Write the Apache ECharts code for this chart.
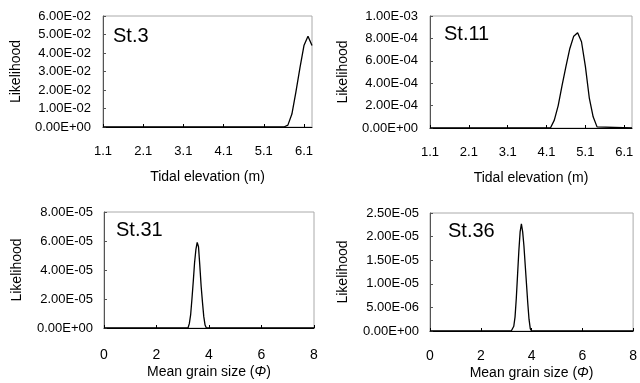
<!DOCTYPE html>
<html>
<head>
<meta charset="utf-8">
<script src="https://cdn.jsdelivr.net/npm/echarts@6/dist/echarts.min.js"></script>
<style>
html,body{margin:0;padding:0;background:#fff;}
#c{width:640px;height:383px;}
</style>
</head>
<body>
<div id="c"></div>
<script>
// Tidal elevation panels
const tidalTicks = [1.1, 2.1, 3.1, 4.1, 5.1, 6.1];
const st3X = [1.1, 5.6, 5.7, 5.8, 5.9, 6.0, 6.1, 6.2, 6.3];
const st3Y = [0, 0, 0.001, 0.007, 0.019, 0.032, 0.044, 0.049, 0.044];
const st11X = [1.1, 4.2, 4.3, 4.4, 4.5, 4.6, 4.7, 4.8, 4.9, 5.0, 5.1, 5.2, 5.3, 5.4, 6.3];
const st11Y = [0, 0, 0.00007, 0.0002, 0.00038, 0.00055, 0.00071, 0.00082, 0.00085, 0.00077, 0.00055, 0.00027, 0.0001, 0.00001, 0];
// Mean grain size panels
const grainTicks = [0, 2, 4, 6, 8];
const st31X = [0, 3.2, 3.25, 3.3, 3.35, 3.4, 3.45, 3.5, 3.55, 3.6, 3.65, 3.7, 3.75, 3.8, 3.85, 3.9, 8];
const st31Y = [0, 0, 0.3e-5, 0.9e-5, 2.0e-5, 3.2e-5, 4.5e-5, 5.4e-5, 5.9e-5, 5.6e-5, 4.3e-5, 2.9e-5, 1.8e-5, 0.8e-5, 0.2e-5, 0, 0];
const st36X = [0, 3.2, 3.3, 3.35, 3.4, 3.45, 3.5, 3.55, 3.6, 3.65, 3.7, 3.75, 3.8, 3.85, 3.9, 3.95, 4.0, 8];
const st36Y = [0, 0, 0.1e-5, 0.3e-5, 0.7e-5, 1.2e-5, 1.7e-5, 2.1e-5, 2.27e-5, 2.1e-5, 1.8e-5, 1.4e-5, 1.0e-5, 0.6e-5, 0.25e-5, 0.05e-5, 0, 0];

const stationNames = ['St.3', 'St.11', 'St.31', 'St.36'];
const xTitles = ['Tidal elevation (m)', 'Tidal elevation (m)', 'Mean grain size ({i|Φ})', 'Mean grain size ({i|Φ})'];
const yTitle = 'Likelihood';

function sci(v) {
  if (v === 0) return '0.00E+00';
  let e = Math.floor(Math.log10(Math.abs(v)) + 1e-9);
  let m = v / Math.pow(10, e);
  if (Math.abs(m) >= 9.995) { m /= 10; e += 1; }
  const sign = e < 0 ? '-' : '+';
  const ae = Math.abs(e);
  return m.toFixed(2) + 'E' + sign + (ae < 10 ? '0' + ae : '' + ae);
}

function pairs(xs, ys) { return xs.map((x, i) => [x, ys[i]]); }

const FONT = 'Liberation Sans';
const grids = [
  { left: 103, top: 16, width: 209, height: 111 },
  { left: 430, top: 16, width: 202, height: 112 },
  { left: 104, top: 212, width: 210, height: 116 },
  { left: 430, top: 213, width: 206, height: 118 }
];
const yRanges = [
  { max: 0.06, interval: 0.01 },
  { max: 0.001, interval: 0.0002 },
  { max: 8e-5, interval: 2e-5 },
  { max: 2.5e-5, interval: 5e-6 }
];
const titlePos = [
  { left: 113, top: 26 },
  { left: 444, top: 24 },
  { left: 116, top: 220 },
  { left: 448, top: 221 }
];
const seriesData = [pairs(st3X, st3Y), pairs(st11X, st11Y), pairs(st31X, st31Y), pairs(st36X, st36Y)];

const option = {
  backgroundColor: '#fff',
  animation: false,
  textStyle: { fontFamily: FONT },
  title: stationNames.map((n, i) => ({
    text: n, left: titlePos[i].left, top: titlePos[i].top, padding: 0,
    textStyle: { fontFamily: FONT, fontSize: 20, fontWeight: 'normal', color: '#000' }
  })),
  grid: grids.map(g => Object.assign({ show: true, borderColor: '#aaa', borderWidth: 1, backgroundColor: 'transparent' }, g)),
  xAxis: [0, 1, 2, 3].map(i => {
    const upper = i < 2;
    const ax = {
      type: 'value', gridIndex: i,
      name: xTitles[i], nameLocation: 'middle',
      nameGap: upper ? 43 : (i === 2 ? 37 : 35),
      nameTextStyle: { fontFamily: FONT, fontSize: 14, color: '#000', rich: { i: { fontStyle: 'italic', fontSize: 14, fontFamily: FONT } } },
      axisLine: { show: true, onZero: false, lineStyle: { color: '#000', width: 1 } },
      axisTick: { show: true, inside: true, length: 3, lineStyle: { color: '#000' } },
      splitLine: { show: false },
      axisLabel: { fontFamily: FONT, fontSize: 13, color: '#000', margin: upper ? 18 : (i === 2 ? 20 : 18) }
    };
    if (upper) {
      ax.min = 1.1; ax.max = 6.3;
      ax.axisLabel.customValues = tidalTicks;
      ax.axisTick.customValues = tidalTicks;
      ax.axisLabel.formatter = v => v.toFixed(1);
    } else {
      ax.min = grainTicks[0]; ax.max = grainTicks[grainTicks.length - 1]; ax.interval = 2;
      ax.axisLabel.fontSize = 14;
      ax.axisLabel.formatter = v => String(v);
    }
    return ax;
  }),
  yAxis: [0, 1, 2, 3].map(i => ({
    type: 'value', gridIndex: i, min: 0, max: yRanges[i].max, interval: yRanges[i].interval,
    name: yTitle, nameLocation: 'middle', nameGap: 80,
    nameTextStyle: { fontFamily: FONT, fontSize: 14, color: '#000' },
    axisLine: { show: true, lineStyle: { color: '#555', width: 1 } },
    axisTick: { show: true, inside: true, length: 3, lineStyle: { color: '#555' } },
    splitLine: { show: false },
    axisLabel: { fontFamily: FONT, fontSize: 13, color: '#000', margin: i < 2 ? 12 : 11, formatter: sci }
  })),
  series: seriesData.map((d, i) => ({
    type: 'line', xAxisIndex: i, yAxisIndex: i, data: d,
    showSymbol: false, symbol: 'none',
    lineStyle: { color: '#000', width: 1.3 }
  }))
};

const chart = echarts.init(document.getElementById('c'), null, { renderer: 'canvas' });
chart.setOption(option);
</script>
</body>
</html>
